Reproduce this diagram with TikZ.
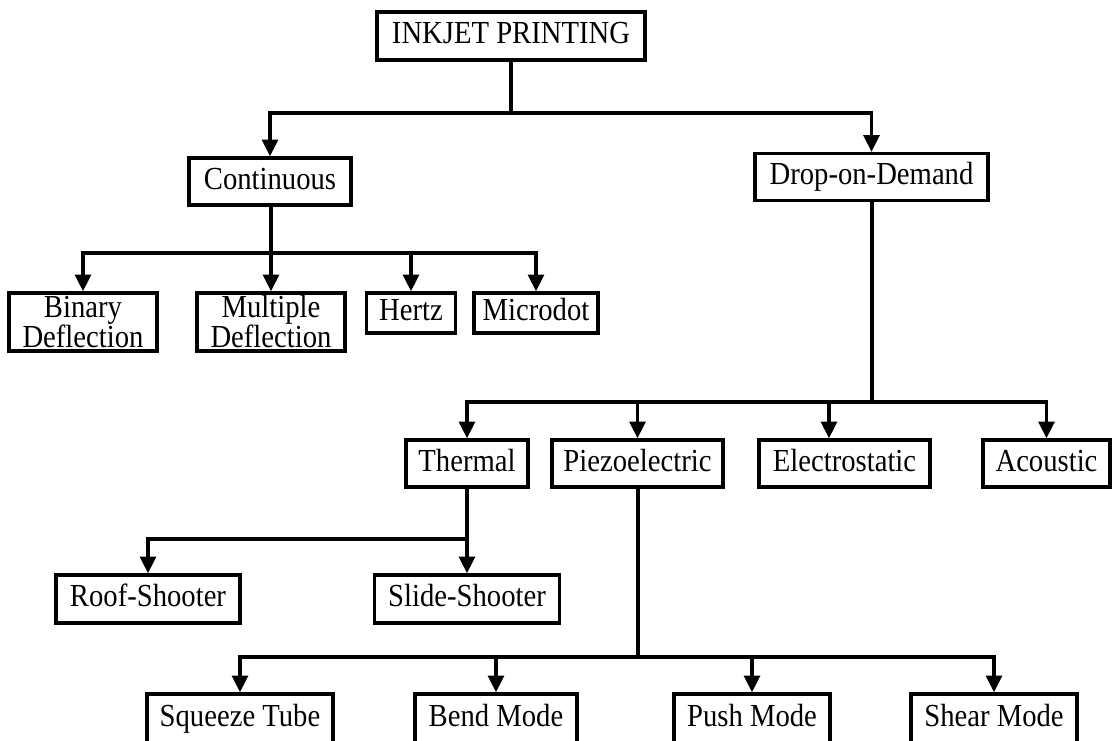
\documentclass[tikz,border=0pt]{standalone}
\usepackage{fontspec}
\setmainfont{Liberation Serif}
\usetikzlibrary{arrows.meta}
\newcommand\vst[1]{\scalebox{1}[1.12]{#1}}
\begin{document}
\begin{tikzpicture}[x=0.75pt,y=-0.75pt,
  box/.style={draw, line width=2.6pt, fill=white, inner sep=0pt, align=center,
    font=\fontsize{21.5}{22.5}\selectfont},
  one/.style={text height=16.5pt, text depth=5pt},
  bx/.style 2 args={minimum width=#1*0.75pt, minimum height=#2*0.75pt},
  ln/.style={line width=2.3pt},
  arr/.style={line width=2.3pt, -{Triangle[length=12.5pt,width=12pt]}}]
\useasboundingbox (0,0) rectangle (1113,740);
\clip (0,0) rectangle (1113,740);
% level 0
\node[box, one, bx={268}{48}] (top) at (511,36) {\vst{INKJET PRINTING}};
% level 1
\node[box, one, bx={162}{47}] (cont) at (270,181.5) {\vst{Continuous}};
\node[box, one, bx={233}{47}] (dod) at (871.5,177) {\vst{Drop-on-Demand}};
% continuous children
\node[box, bx={148}{58}] (binary) at (83,322) {\vst{Binary}\\\vst{Deflection}};
\node[box, bx={148}{58}] (multiple) at (271,322) {\vst{Multiple}\\\vst{Deflection}};
\node[box, one, bx={89}{40}] (hertz) at (411,313) {\vst{Hertz}};
\node[box, one, bx={124}{40}] (microdot) at (536,313) {\vst{Microdot}};
% dod children
\node[box, one, bx={122}{47}] (thermal) at (467,463.5) {\vst{Thermal}};
\node[box, one, bx={171}{47}] (piezo) at (637.5,463.5) {\vst{Piezoelectric}};
\node[box, one, bx={171}{47}] (electro) at (844.5,463.5) {\vst{Electrostatic}};
\node[box, one, bx={127}{47}] (acoustic) at (1046.5,463.5) {\vst{Acoustic}};
% thermal children
\node[box, one, bx={184}{48}] (roof) at (148,599) {\vst{Roof-Shooter}};
\node[box, one, bx={185}{48}] (slide) at (467,599) {\vst{Slide-Shooter}};
% piezo children
\node[box, one, bx={186}{50}] (squeeze) at (240,719) {\vst{Squeeze Tube}};
\node[box, one, bx={162}{50}] (bend) at (496,719) {\vst{Bend Mode}};
\node[box, one, bx={156}{50}] (push) at (752,719) {\vst{Push Mode}};
\node[box, one, bx={166}{50}] (shear) at (994,719) {\vst{Shear Mode}};
% buses
\coordinate (b0) at (511,113);
\coordinate (b1) at (271,253);
\coordinate (b2) at (872,402);
\coordinate (b3) at (467,539);
\coordinate (b4) at (638,657);
% connectors
\draw[ln] (top.south) -- (b0);
\draw[arr] (b0) -| (cont.north);
\draw[arr] (b0) -| (dod.north);
\draw[ln] (cont.south -| b1) -- (b1);
\draw[arr] (b1) -| (binary.north);
\draw[arr] (b1) -- (multiple.north);
\draw[arr] (b1) -| (hertz.north);
\draw[arr] (b1) -| (microdot.north);
\draw[ln] (dod.south -| b2) -- (b2);
\draw[arr] (b2) -| (thermal.north);
\draw[arr] (b2) -| (piezo.north);
\draw[arr] (b2) -| ([xshift=-15.5*0.75pt]electro.north);
\draw[arr] (b2) -| (acoustic.north);
\draw[ln] (thermal.south) -- (b3);
\draw[arr] (b3) -| (roof.north);
\draw[arr] (b3) -- (slide.north);
\draw[ln] (piezo.south -| b4) -- (b4);
\draw[arr] (b4) -| (squeeze.north);
\draw[arr] (b4) -| (bend.north);
\draw[arr] (b4) -| (push.north);
\draw[arr] (b4) -| (shear.north);
\end{tikzpicture}
\end{document}
